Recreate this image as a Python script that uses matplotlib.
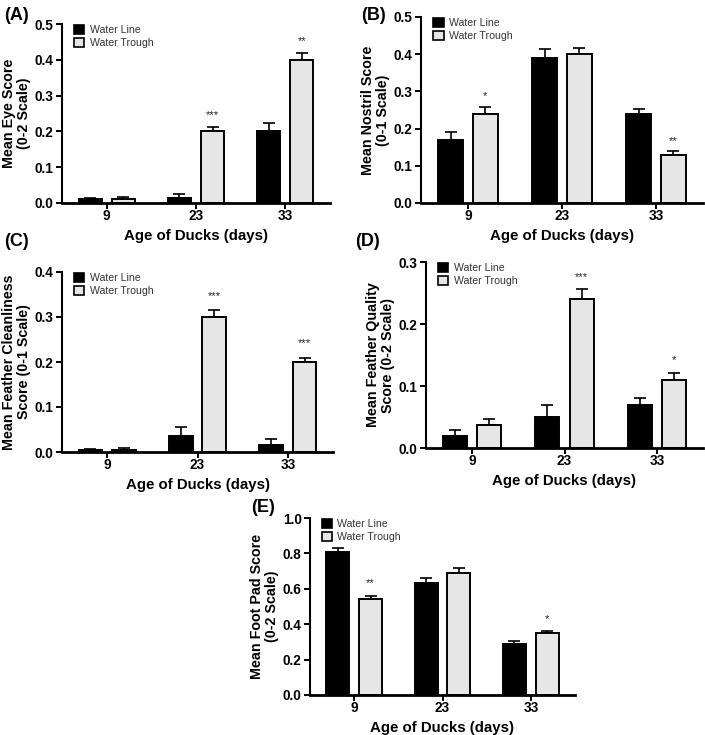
import matplotlib
matplotlib.use("Agg")
import matplotlib.pyplot as plt
import numpy as np
from matplotlib.patches import Patch

plt.rcParams['font.family'] = ['Liberation Sans', 'DejaVu Sans']

ages = ["9", "23", "33"]
series_names = ["Water Line", "Water Trough"]

# Panel A: eye score
eye_line = [0.010, 0.015, 0.200]
eye_line_err = [0.004, 0.010, 0.024]
eye_trough = [0.012, 0.200, 0.400]
eye_trough_err = [0.004, 0.013, 0.019]
eye_sig = ["", "***", "**"]

# Panel B: nostril score
nos_line = [0.170, 0.390, 0.240]
nos_line_err = [0.020, 0.024, 0.012]
nos_trough = [0.240, 0.400, 0.130]
nos_trough_err = [0.019, 0.018, 0.009]
nos_sig = ["*", "", "**"]

# Panel C: feather cleanliness
clean_line = [0.004, 0.035, 0.015]
clean_line_err = [0.002, 0.020, 0.013]
clean_trough = [0.005, 0.300, 0.200]
clean_trough_err = [0.004, 0.015, 0.010]
clean_sig = ["", "***", "***"]

# Panel D: feather quality
qual_line = [0.020, 0.050, 0.070]
qual_line_err = [0.009, 0.020, 0.010]
qual_trough = [0.037, 0.240, 0.110]
qual_trough_err = [0.009, 0.016, 0.011]
qual_sig = ["", "***", "*"]

# Panel E: foot pad
foot_line = [0.810, 0.630, 0.290]
foot_line_err = [0.020, 0.030, 0.015]
foot_trough = [0.540, 0.690, 0.350]
foot_trough_err = [0.022, 0.025, 0.010]
foot_sig = ["**", "", "*"]

W, H = 705, 735
fig = plt.figure(figsize=(W / 100, H / 100), dpi=100)

def rect(l, t, r, b):
    return [l / W, 1 - b / H, (r - l) / W, (b - t) / H]

LINE_C = "#000000"
TROUGH_C = "#e6e6e6"

def panel(pos, label, lpos, line, line_err, trough, trough_err, sig, ymax, ystep, ylabel, star_gap):
    ax = fig.add_axes(rect(*pos))
    x = np.arange(len(ages))
    off, bw = 0.185, 0.26
    ax.bar(x - off, line, bw, color=LINE_C, edgecolor="black", linewidth=1.4, zorder=2)
    ax.bar(x + off, trough, bw, color=TROUGH_C, edgecolor="black", linewidth=1.4, zorder=2)
    ax.errorbar(x - off, line, yerr=[np.zeros(3), line_err], fmt="none", ecolor="black",
                elinewidth=1.2, capsize=4.5, capthick=1.2, zorder=1)
    ax.errorbar(x + off, trough, yerr=[np.zeros(3), trough_err], fmt="none", ecolor="black",
                elinewidth=1.2, capsize=4.5, capthick=1.2, zorder=1)
    for xi, v, e, s in zip(x, trough, trough_err, sig):
        if s:
            ax.text(xi + off, v + e + star_gap, s, ha="center", va="bottom", fontsize=8, color="#222222")
    ax.set_xlim(-0.5, 2.5)
    ax.set_ylim(0, ymax)
    ax.set_yticks(np.arange(0, ymax + ystep / 2, ystep))
    ax.set_yticklabels([f"{t:.1f}" for t in np.arange(0, ymax + ystep / 2, ystep)])
    ax.set_xticks(x)
    ax.set_xticklabels(ages)
    for sp in ["top", "right"]:
        ax.spines[sp].set_visible(False)
    ax.spines["left"].set_linewidth(1.5)
    ax.spines["bottom"].set_linewidth(2.0)
    ax.tick_params(axis="both", width=1.4, length=4, labelsize=9.8)
    ax.tick_params(axis="x", pad=0.5)
    ax.tick_params(axis="y", pad=2)
    for t in ax.get_xticklabels() + ax.get_yticklabels():
        t.set_fontweight("bold")
    ax.set_xlabel("Age of Ducks (days)", fontsize=10.8, fontweight="bold", labelpad=4)
    ax.set_ylabel(ylabel, fontsize=10.3, fontweight="bold", labelpad=3, linespacing=1.1)
    handles = [Patch(facecolor=LINE_C, edgecolor="black", linewidth=1.2),
               Patch(facecolor=TROUGH_C, edgecolor="black", linewidth=1.2)]
    ax.legend(handles, series_names, loc="upper left", bbox_to_anchor=(0.02, 1.03), frameon=False,
              fontsize=7.6, handlelength=1.0, handleheight=1.0, handletextpad=0.5,
              labelspacing=0.25, borderaxespad=0.2, labelcolor="#333333")
    fig.text(lpos[0] / W, 1 - lpos[1] / H, label, fontsize=13, fontweight="bold",
             ha="left", va="center")
    return ax

panel((62, 24, 330, 203), "(A)", (4, 15), eye_line, eye_line_err, eye_trough, eye_trough_err,
      eye_sig, 0.5, 0.1, "Mean Eye Score\n(0-2 Scale)", 0.02)
panel((421, 17, 703, 203), "(B)", (361, 15), nos_line, nos_line_err, nos_trough, nos_trough_err,
      nos_sig, 0.5, 0.1, "Mean Nostril Score\n(0-1 Scale)", 0.015)
panel((62, 272, 333, 452), "(C)", (4, 242), clean_line, clean_line_err, clean_trough, clean_trough_err,
      clean_sig, 0.4, 0.1, "Mean Feather Cleanliness\nScore (0-1 Scale)", 0.02)
panel((426, 262, 703, 448), "(D)", (355, 242), qual_line, qual_line_err, qual_trough, qual_trough_err,
      qual_sig, 0.3, 0.1, "Mean Feather Quality\nScore (0-2 Scale)", 0.012)
panel((310, 518, 575, 695), "(E)", (251, 507), foot_line, foot_line_err, foot_trough, foot_trough_err,
      foot_sig, 1.0, 0.2, "Mean Foot Pad Score\n(0-2 Scale)", 0.04)

fig.savefig("out.png", dpi=100)
